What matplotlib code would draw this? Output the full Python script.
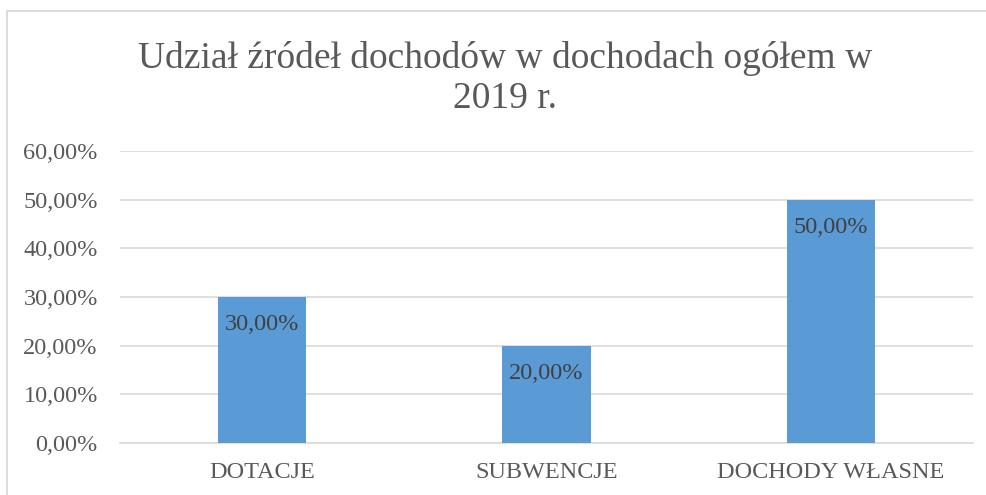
import matplotlib.pyplot as plt
from matplotlib.patches import Rectangle
from matplotlib.ticker import FuncFormatter

categories = ["DOTACJE", "SUBWENCJE", "DOCHODY WŁASNE"]
shares = [0.30, 0.20, 0.50]
title_lines = ["Udział źródeł dochodów w dochodach ogółem w", "2019 r."]

plt.rcParams['font.family'] = ['Liberation Serif', 'DejaVu Serif']

fig = plt.figure(figsize=(9.87, 4.95), dpi=100)
ax = fig.add_axes([120 / 987, 1 - 443 / 495, (973 - 120) / 987, (443 - 151) / 495])

# outer chart frame (runs off the right and bottom edge)
fig.patches.append(Rectangle((7 / 987, -0.1), 1.2, 1 - 11 / 495 + 0.1,
                             transform=fig.transFigure, fill=False,
                             edgecolor='#D9D9D9', linewidth=1.3))

x = list(range(len(categories)))
bars = ax.bar(x, shares, width=0.31, color='#5B9BD5', zorder=3)

ax.set_xlim(-0.5, len(categories) - 0.5)
ax.set_ylim(0, 0.6)
ax.set_yticks([i / 10 for i in range(7)])
ax.yaxis.set_major_formatter(FuncFormatter(lambda v, p: f"{v * 100:.2f}%".replace('.', ',')))
ax.set_xticks(x)
ax.set_xticklabels(categories)
ax.tick_params(axis='both', length=0, labelsize=17.5, colors='#595959')
ax.tick_params(axis='y', pad=16)
ax.tick_params(axis='x', pad=13.5)
ax.grid(axis='y', color='#D9D9D9', linewidth=1.2, zorder=0)
for s in ['top', 'right', 'left']:
    ax.spines[s].set_visible(False)
ax.spines['bottom'].set_color('#D9D9D9')
ax.spines['bottom'].set_linewidth(1.2)

for b, v in zip(bars, shares):
    ax.annotate(f"{v * 100:.2f}%".replace('.', ','),
                (b.get_x() + b.get_width() / 2, v),
                xytext=(0, -20), textcoords='offset points',
                ha='center', va='center', fontsize=17.5, color='#404040', zorder=4)

fig.text(505 / 987, 1 - 59 / 495, title_lines[0], ha='center', va='center',
         fontsize=27, color='#595959')
fig.text(505 / 987, 1 - 99 / 495, title_lines[1], ha='center', va='center',
         fontsize=27, color='#595959')

fig.savefig('out.png', dpi=100)
